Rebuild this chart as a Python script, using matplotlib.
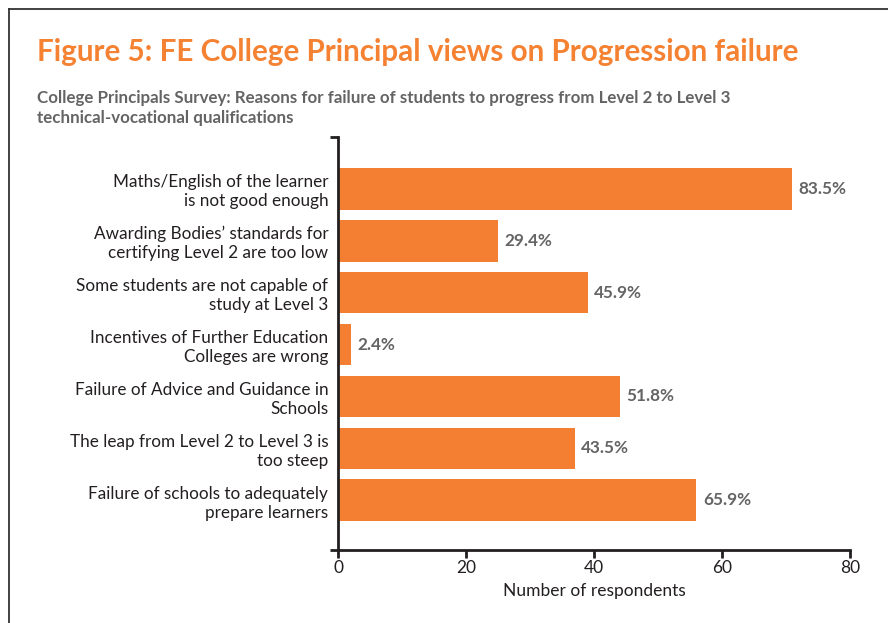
import matplotlib
matplotlib.use("Agg")
import matplotlib.pyplot as plt
from matplotlib.lines import Line2D

categories = [
    "Maths/English of the learner\nis not good enough",
    "Awarding Bodies\u2019 standards for\ncertifying Level 2 are too low",
    "Some students are not capable of\nstudy at Level 3",
    "Incentives of Further Education\nColleges are wrong",
    "Failure of Advice and Guidance in\nSchools",
    "The leap from Level 2 to Level 3 is\ntoo steep",
    "Failure of schools to adequately\nprepare learners",
]
respondents = [71, 25, 39, 2, 44, 37, 56]
pct_labels = ["83.5%", "29.4%", "45.9%", "2.4%", "51.8%", "43.5%", "65.9%"]
x_ticks = [0, 20, 40, 60, 80]

title = "Figure 5: FE College Principal views on Progression failure"
subtitle = ("College Principals Survey: Reasons for failure of students to progress from Level 2 to Level 3\n"
            "technical-vocational qualifications")
xlabel = "Number of respondents"

ORANGE = "#F47F32"
TITLE_ORANGE = "#F58232"
GRAY = "#646464"
DARK = "#231F20"

plt.rcParams['font.family'] = ['Lato', 'DejaVu Sans']

W, H = 888, 623
fig = plt.figure(figsize=(W / 100, H / 100), dpi=100)
fig.patch.set_facecolor("white")

# frame lines (left and top)
fig.add_artist(Line2D([9 / W, 9 / W], [0, 1 - 9 / H], color="#333333", lw=1.3, transform=fig.transFigure))
fig.add_artist(Line2D([9 / W, 1], [1 - 9 / H, 1 - 9 / H], color="#333333", lw=1.3, transform=fig.transFigure))

fig.text(37 / W, 1 - 52 / H, title, color=TITLE_ORANGE, fontsize=21.3, fontweight="bold",
         ha="left", va="center")
fig.text(37 / W, 1 - 108 / H, subtitle, color=GRAY, fontsize=12.2, fontweight="bold",
         ha="left", va="center", linespacing=1.3)

left, right, top, bottom = 338 / W, 850 / W, 1 - 137 / H, 1 - 550 / H
ax = fig.add_axes([left, bottom, right - left, top - bottom])

y = list(range(len(categories)))
ax.barh(y, respondents, height=0.8, color=ORANGE)
for yi, v, lab in zip(y, respondents, pct_labels):
    ax.text(v + 1.0, yi, lab, va="center", ha="left", color=GRAY, fontsize=12.3, fontweight="bold")

ax.set_xlim(0, 80)
ax.set_ylim(6.96, -1.0)
ax.set_yticks(y)
ax.set_yticklabels(categories, fontsize=12.3, color=DARK, linespacing=1.22)
ax.tick_params(axis="y", length=0, pad=7)
ax.set_yticks([6.96, -1.0], minor=True)
ax.tick_params(axis="y", which="minor", length=6, width=2, color=DARK)

ax.set_xticks(x_ticks)
ax.set_xticklabels([str(t) for t in x_ticks], fontsize=12.5, color=DARK)
ax.tick_params(axis="x", length=6, width=2, color=DARK, pad=1.5)
ax.set_xlabel(xlabel, fontsize=12.5, color=DARK, labelpad=5)

for s in ["top", "right"]:
    ax.spines[s].set_visible(False)
for s in ["left", "bottom"]:
    ax.spines[s].set_linewidth(2)
    ax.spines[s].set_color(DARK)

fig.savefig("out.png", dpi=100)
